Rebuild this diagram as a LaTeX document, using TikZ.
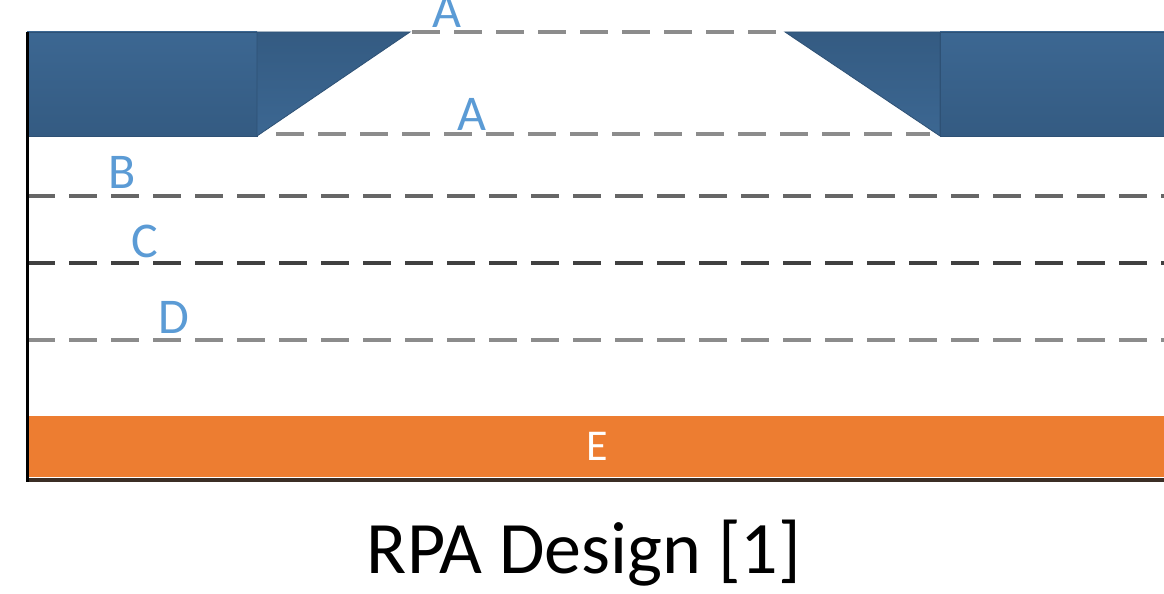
\documentclass[tikz,border=0pt]{standalone}
\usepackage{fontspec}
\setmainfont{Carlito}
\definecolor{slab}{HTML}{38618A}
\definecolor{slabtop}{HTML}{3C6792}
\definecolor{slabbot}{HTML}{345B82}
\definecolor{slabedge}{HTML}{2E5175}
\definecolor{gridlbl}{HTML}{5B9BD5}
\definecolor{plate}{HTML}{ED7D31}
\definecolor{base}{HTML}{3B2E25}
\begin{document}
\begin{tikzpicture}[x=1pt,y=-1pt,
  level/.style={dashed, dash pattern=on 28pt off 14pt, line width=3.2pt},
  lvlgray/.style={level, draw=black!45},
  lvldark/.style={level, draw=black!60},
  lvlblack/.style={level, draw=black!75},
  gridtag/.style={text=gridlbl, font=\fontsize{50}{60}\selectfont, inner sep=0pt, anchor=base west},
  slabpart/.style={top color=slabtop, bottom color=slabbot, draw=slabedge, line width=0.8pt},
  slabwedge/.style={top color=slabbot, bottom color=slabtop, draw=slabedge, line width=0.8pt}]
\useasboundingbox (0,0) rectangle (1164,594);
\fill[white] (0,0) rectangle (1164,594);

% upper electrode slabs with bevelled aperture edges
\path[slabpart] (27,32) rectangle (257,136);
\path[slabwedge] (257,32) -- (410,32) -- (257,136) -- cycle;
\path[slabwedge] (785,32) -- (940,32) -- (940,136) -- cycle;
\path[slabpart] (940,32) rectangle (1166,136);

% grid levels
\coordinate (a1l) at (412,32);  \coordinate (a1r) at (785,32);
\coordinate (a2l) at (276,134); \coordinate (a2r) at (930,134);
\coordinate (bl) at (27,196);   \coordinate (br) at (1164,196);
\coordinate (cl) at (27,263);   \coordinate (cr) at (1164,263);
\coordinate (dl) at (27,340);   \coordinate (dr) at (1164,340);
\draw[lvlgray] (a1l) -- (a1r);
\draw[lvlgray] (a2l) -- (a2r);
\draw[lvldark] (bl) -- (br);
\draw[lvlblack] (cl) -- (cr);
\draw[lvlgray] (dl) -- (dr);

\node[gridtag] (tagA1) at (432,28) {A};
\node[gridtag] (tagA2) at (457,130) {A};
\node[gridtag] (tagB) at (108,188) {B};
\node[gridtag] (tagC) at (131,257) {C};
\node[gridtag] (tagD) at (158,333) {D};

% collector plate
\fill[plate] (27,416) rectangle (1164,477);
\node[text=white, font=\fontsize{44}{52}\selectfont, inner sep=0pt, anchor=base] (tagE) at (597,460) {E};

% frame
\draw[base, line width=3.5pt] (27,480) -- (1164,480);
\draw[black, line width=3pt] (27,32) -- (27,481.5);

\node[font=\fontsize{74}{88}\selectfont, inner sep=0pt, anchor=base] (title) at (584,573) {RPA Design [1]};
\end{tikzpicture}
\end{document}
